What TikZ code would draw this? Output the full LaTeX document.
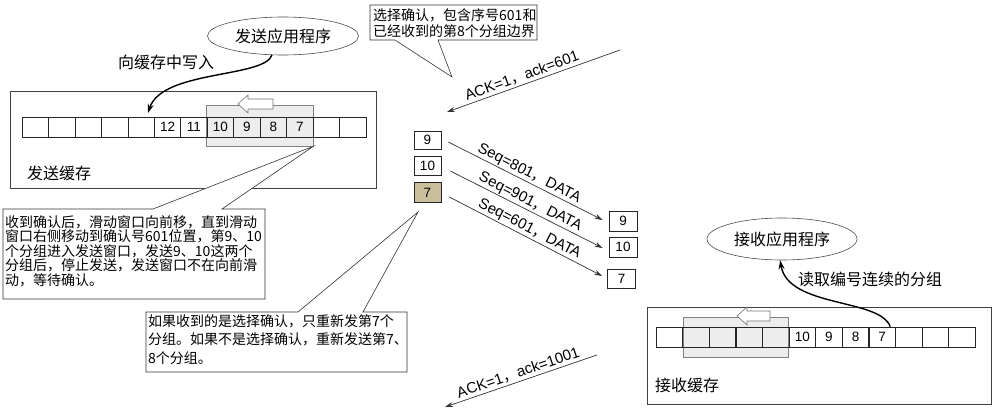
\documentclass[tikz,border=0pt]{standalone}
\usepackage{fontspec}
\setmainfont{Liberation Sans}
\newfontfamily\cjk{Noto Sans CJK SC}
\usetikzlibrary{calc,arrows.meta,shapes.geometric}
\newcommand\zc{{\cjk ，}}
\begin{document}
\begin{tikzpicture}[x=1pt,y=-1pt,
  bufbox/.style={draw=black!75, line width=0.7pt, inner sep=0pt},
  cell/.style={draw=black!85, line width=0.6pt, minimum width=26.5pt, minimum height=20pt, inner sep=0pt, font=\fontsize{13.5}{13.5}\selectfont},
  window/.style={draw=black!50, fill=black!7, line width=0.6pt, inner sep=0pt},
  hollow/.style={draw=black!55, fill=white, line width=0.6pt},
  app/.style={ellipse, draw=black!70, line width=0.6pt, inner sep=0pt, font=\cjk\fontsize{16}{16}\selectfont},
  lbl/.style={font=\cjk\fontsize{16}{16}\selectfont, inner sep=0pt},
  pkt/.style={draw=black!85, line width=0.6pt, inner sep=0pt, minimum width=27pt, font=\fontsize{13.5}{13.5}\selectfont},
  callout/.style={draw=black!80, fill=white, line width=0.6pt},
  ctext/.style={font=\cjk\fontsize{14}{14.5}\selectfont, align=left, inner sep=0pt, anchor=north west},
  msg/.style={draw=black!80, line width=0.7pt, -{Stealth[length=8pt,width=5pt]}},
  msglbl/.style={font=\fontsize{15}{15}\selectfont, sloped, above, inner sep=1pt},
  flow/.style={draw=black, line width=1.4pt, -{Stealth[length=9pt,width=6pt]}}
]
\useasboundingbox (0,0) rectangle (1002,420);

% ---------- sender ----------
\node[bufbox, minimum width=366pt, minimum height=97pt] (sbuf) at (193,139.5) {};
\node[window, minimum width=107pt, minimum height=41pt] (swin) at (259.5,125.5) {};
\foreach \i/\t in {0/{},1/{},2/{},3/{},4/{},5/12,6/11,7/10,8/9,9/8,10/7,11/{},12/{}}
  \node[cell] (s\i) at ({22+26.46*(\i+0.5)},127) {\t};
\draw[hollow] (238,104) -- (248,95) -- (248,99) -- (273,99) -- (273,109) -- (248,109) -- (248,113) -- cycle;
\node[lbl, anchor=west] (slbl) at (27,173) {发送缓存};
\node[app, minimum width=151pt, minimum height=38pt] (sapp) at (283,36) {发送应用程序};
\node[lbl] (wlbl) at (166,62) {向缓存中写入};
\coordinate (wr) at (148,113);
\draw[flow] (sapp.240) .. controls (264,78) and (162,70) .. (wr);

% ---------- receiver ----------
\node[bufbox, minimum width=344pt, minimum height=97pt] (rbuf) at (819,355.5) {};
\node[window, minimum width=105pt, minimum height=40pt] (rwin) at (735.5,337) {};
\foreach \i/\t in {0/{},1/{},2/{},3/{},4/{},5/10,6/9,7/8,8/7,9/{},10/{},11/{}}
  \node[cell] (r\i) at ({656+26.6*(\i+0.5)},337) {\t};
\draw[hollow] (737,316) -- (747,307) -- (747,311) -- (770,311) -- (770,321) -- (747,321) -- (747,325) -- cycle;
\node[lbl, anchor=west] (rlbl) at (655,385) {接收缓存};
\node[app, minimum width=150pt, minimum height=42pt] (rapp) at (782,239) {接收应用程序};
\node[lbl] (rdlbl) at (870,279) {读取编号连续的分组};
\draw[flow] ($(r8.north)!0.6!(r8.north east)$) .. controls (880,298) and (788,308) .. (rapp.265);

% ---------- packets in flight ----------
\node[pkt, minimum height=18pt] (m9) at (427.5,140) {9};
\node[pkt, minimum height=19pt] (m10) at (427.5,165.5) {10};
\node[pkt, minimum height=20pt, fill={rgb,255:red,201;green,191;blue,155}] (m7) at (427.5,192.5) {7};
\node[pkt, minimum width=28pt, minimum height=20pt] (q9) at (623,221) {9};
\node[pkt, minimum width=28pt, minimum height=20pt] (q10) at (623,247) {10};
\node[pkt, minimum width=28pt, minimum height=19pt] (q7) at (621.5,278.5) {7};

\draw[msg] ($(m9.east)+(7,2)$) -- node[msglbl] {Seq=801\zc DATA} ($(q9.west)+(-6,-1)$);
\draw[msg] ($(m10.east)+(9,5.5)$) -- node[msglbl] {Seq=901\zc DATA} ($(q10.west)+(-6,1)$);
\draw[msg] ($(m7.east)+(8,4.5)$) -- node[msglbl] {Seq=601\zc DATA} ($(q7.west)+(-5,-2.5)$);

% ---------- acknowledgements ----------
\coordinate (a1s) at (620,50);
\coordinate (a1e) at (447,112);
\draw[msg] (a1s) -- node[msglbl, pos=0.55, inner sep=2pt] {ACK=1\zc ack=601} (a1e);
\coordinate (a2s) at (597,355);
\coordinate (a2e) at (445,407);
\draw[msg] (a2s) -- node[msglbl, inner sep=2pt] {ACK=1\zc ack=1001} (a2e);

% ---------- callouts ----------
\coordinate (c1nw) at (370,5);
\coordinate (c1se) at (537,40);
\coordinate (c1a) at (395,40);
\coordinate (c1b) at (438,40);
\coordinate (c1tip) at (452,77);
\draw[callout] (c1nw) -- (c1nw -| c1se) -- (c1se) -- (c1b) -- (c1tip) -- (c1a) -- (c1nw |- c1se) -- cycle;
\node[ctext, font=\cjk\fontsize{14}{16.5}\selectfont] (c1) at (373,8) {选择确认，包含序号601和\\已经收到的第8个分组边界};

\coordinate (c2nw) at (3,209);
\coordinate (c2se) at (265,299);
\coordinate (c2a) at (153,209);
\coordinate (c2b) at (222,209);
\draw[callout] (c2nw) -- (c2a) -- (swin.south east) -- (c2b) -- (c2nw -| c2se) -- (c2se) -- (c2nw |- c2se) -- cycle;
\node[ctext] (c2) at (5,215) {收到确认后，滑动窗口向前移，直到滑动\\窗口右侧移动到确认号601位置，第9、10\\个分组进入发送窗口，发送9、10这两个\\分组后，停止发送，发送窗口不在向前滑\\动，等待确认。};

\coordinate (c3nw) at (146,312);
\coordinate (c3se) at (407,372);
\coordinate (c3a) at (298,312);
\coordinate (c3b) at (363,312);
\coordinate (c3tip) at (418,212);
\draw[callout] (c3nw) -- (c3a) -- (c3tip) -- (c3b) -- (c3nw -| c3se) -- (c3se) -- (c3nw |- c3se) -- cycle;
\node[ctext, font=\cjk\fontsize{14}{18.5}\selectfont] (c3) at (148,314) {如果收到的是选择确认，只重新发第7个\\分组。如果不是选择确认，重新发送第7、\\8个分组。};
\end{tikzpicture}
\end{document}
